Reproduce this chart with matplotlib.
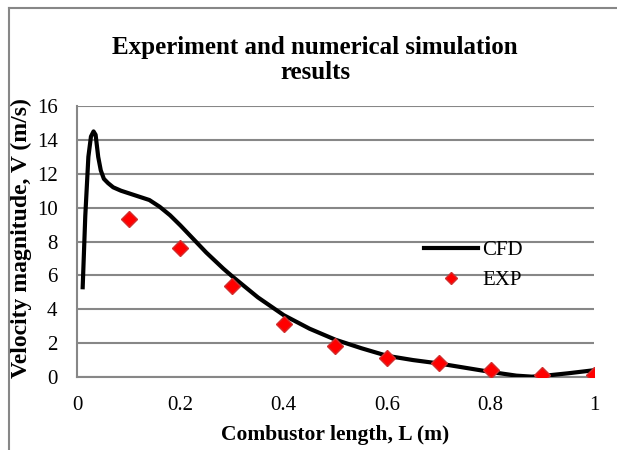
import matplotlib
matplotlib.use("Agg")
import matplotlib.pyplot as plt
from matplotlib.lines import Line2D

# CFD curve
x_cfd = [0.011, 0.016, 0.022, 0.027, 0.032, 0.036, 0.041, 0.046, 0.052, 0.060, 0.070,
         0.085, 0.100, 0.120, 0.140, 0.160, 0.180, 0.200, 0.225, 0.250, 0.283, 0.300,
         0.350, 0.400, 0.450, 0.500, 0.550, 0.600, 0.650, 0.700, 0.750, 0.800, 0.850,
         0.880, 0.900, 0.950, 1.000]
y_cfd = [5.3, 9.5, 13.0, 14.2, 14.5, 14.3, 13.0, 12.2, 11.7, 11.45, 11.2,
         11.0, 10.85, 10.65, 10.45, 10.05, 9.55, 8.95, 8.15, 7.35, 6.4, 5.95,
         4.7, 3.65, 2.85, 2.2, 1.7, 1.25, 1.0, 0.8, 0.55, 0.3, 0.08,
         0.02, 0.06, 0.22, 0.4]

# experimental points
x_exp = [0.1, 0.2, 0.3, 0.4, 0.5, 0.6, 0.7, 0.8, 0.9, 1.0]
y_exp = [9.3, 7.6, 5.4, 3.15, 1.85, 1.15, 0.8, 0.4, 0.13, 0.1]

plt.rcParams['font.family'] = ['Liberation Serif', 'DejaVu Serif']

fig = plt.figure(figsize=(6.17, 4.5), dpi=100)
ax = fig.add_axes([0.1248, 0.1622, 0.8379, 0.6022])

grid_col = '#878787'
ax.plot(x_cfd, y_cfd, color='black', lw=3, label='CFD', zorder=3)
ax.plot(x_exp, y_exp, ls='none', marker='D', ms=8.5, mfc='#ff0000', mec='#d03030',
        mew=1, label='EXP', zorder=4)

ax.set_xlim(0, 1)
ax.set_ylim(0, 16)
ax.set_xticks([0, 0.2, 0.4, 0.6, 0.8, 1])
ax.set_xticklabels(['0', '0.2', '0.4', '0.6', '0.8', '1'])
ax.set_yticks(range(0, 17, 2))
ax.tick_params(length=0, labelsize=15, pad=14)
ax.grid(axis='y', color=grid_col, lw=1.5)
ax.set_axisbelow(True)
for s in ['top', 'right']:
    ax.spines[s].set_visible(False)
for s in ['left', 'bottom']:
    ax.spines[s].set_color(grid_col)
    ax.spines[s].set_linewidth(1.5)

fig.text(335 / 617, 1 - 435 / 450, 'Combustor length, L (m)', ha='center', va='center',
         fontsize=15.5, fontweight='bold')
fig.text(21 / 617, 1 - 238 / 450, 'Velocity magnitude, V (m/s)', ha='center',
         va='center', rotation=90, fontsize=17, fontweight='bold')
fig.text(315 / 617, 1 - 60 / 450, 'Experiment and numerical simulation\nresults',
         ha='center', va='center', fontsize=18, fontweight='bold', linespacing=1.12)

ax.legend(loc='center left', bbox_to_anchor=(0.651, 0.411), frameon=False,
          fontsize=15, handlelength=2.6, handletextpad=0.2, labelspacing=0.5,
          borderpad=0, markerscale=0.75)

# outer chart border (left and top only visible)
fig.add_artist(Line2D([0.0146, 0.0146], [0, 0.982], color=grid_col, lw=1.5))
fig.add_artist(Line2D([0.0146, 1.0], [0.982, 0.982], color=grid_col, lw=1.5))

fig.savefig('out.png', dpi=100)
